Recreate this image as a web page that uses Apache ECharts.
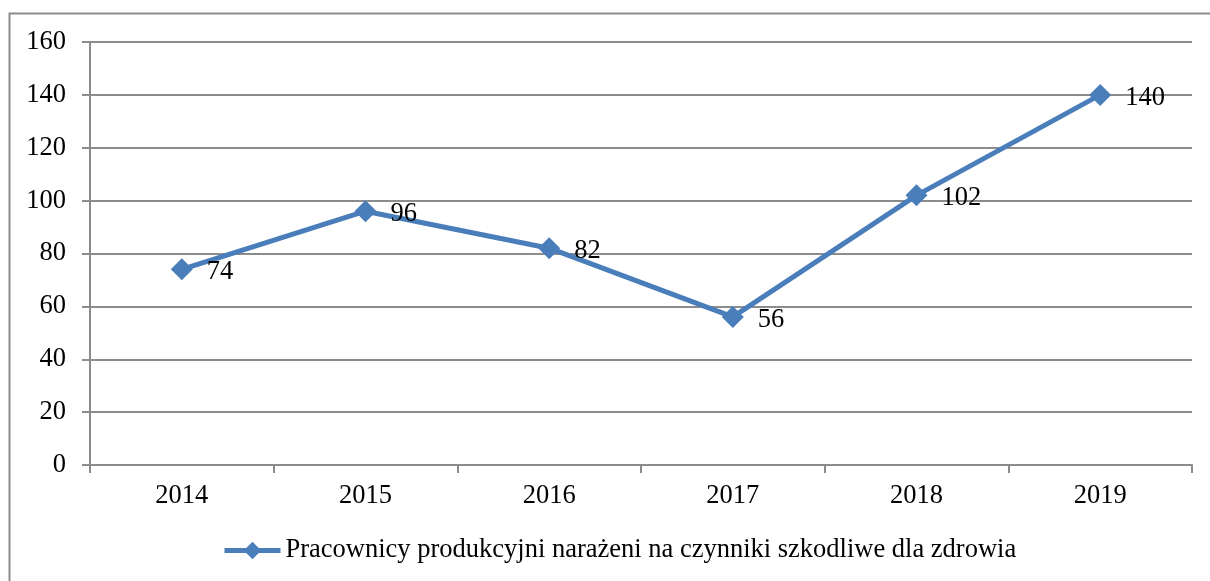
<!DOCTYPE html>
<html>
<head>
<meta charset="utf-8">
<script src="https://cdn.jsdelivr.net/npm/echarts@6/dist/echarts.min.js"></script>
<style>
  html, body { margin: 0; padding: 0; background: #ffffff; }
  #chart { width: 1210px; height: 581px; }
</style>
</head>
<body>
<div id="chart"></div>
<script>
// Years on the category axis
const years = ['2014', '2015', '2016', '2017', '2018', '2019'];
// Production workers exposed to harmful factors
const workers = [74, 96, 82, 56, 102, 140];
const seriesName = 'Pracownicy produkcyjni narażeni na czynniki szkodliwe dla zdrowia';

const FONT = '"Liberation Serif", "Times New Roman", serif';
const FONT_SIZE = 26.5;
const GRID_COLOR = '#8c8c8c';
const LINE_COLOR = '#4a7ebb';

const chart = echarts.init(document.getElementById('chart'), null, { renderer: 'canvas' });

chart.setOption({
  backgroundColor: '#ffffff',
  animation: false,
  graphic: [{
    type: 'rect',
    shape: { x: 9.5, y: 13.5, width: 1215, height: 600 },
    style: { fill: 'none', stroke: '#8c8c8c', lineWidth: 2 },
    silent: true,
    z: -1
  }],
  grid: { left: 90, right: 18, top: 42, bottom: 116, containLabel: false },
  legend: {
    bottom: 12,
    left: 217,
    itemWidth: 56,
    itemHeight: 22,
    itemGap: 4,
    lineStyle: { width: 5, color: LINE_COLOR },
    itemStyle: { color: LINE_COLOR },
    textStyle: { fontFamily: FONT, fontSize: FONT_SIZE, color: '#000' },
    data: [seriesName]
  },
  xAxis: {
    type: 'category',
    data: years,
    boundaryGap: true,
    axisLine: { lineStyle: { color: GRID_COLOR, width: 2 } },
    axisTick: { show: true, length: 8, inside: false, lineStyle: { color: GRID_COLOR, width: 2 } },
    axisLabel: { margin: 18, fontFamily: FONT, fontSize: FONT_SIZE, color: '#000' },
    splitLine: { show: false }
  },
  yAxis: {
    type: 'value',
    min: 0,
    max: 160,
    interval: 20,
    axisLine: { show: true, lineStyle: { color: GRID_COLOR, width: 2 } },
    axisTick: { show: true, length: 8, lineStyle: { color: GRID_COLOR, width: 2 } },
    axisLabel: { margin: 24, fontFamily: FONT, fontSize: FONT_SIZE, color: '#000' },
    splitLine: { show: true, lineStyle: { color: GRID_COLOR, width: 2 } }
  },
  series: [{
    name: seriesName,
    type: 'line',
    data: workers,
    symbol: 'diamond',
    symbolSize: 22,
    lineStyle: { color: LINE_COLOR, width: 5 },
    itemStyle: { color: LINE_COLOR },
    label: {
      show: true,
      position: 'right',
      distance: 14,
      offset: [0, 3],
      fontFamily: FONT,
      fontSize: FONT_SIZE,
      color: '#000'
    }
  }]
});
</script>
</body>
</html>
